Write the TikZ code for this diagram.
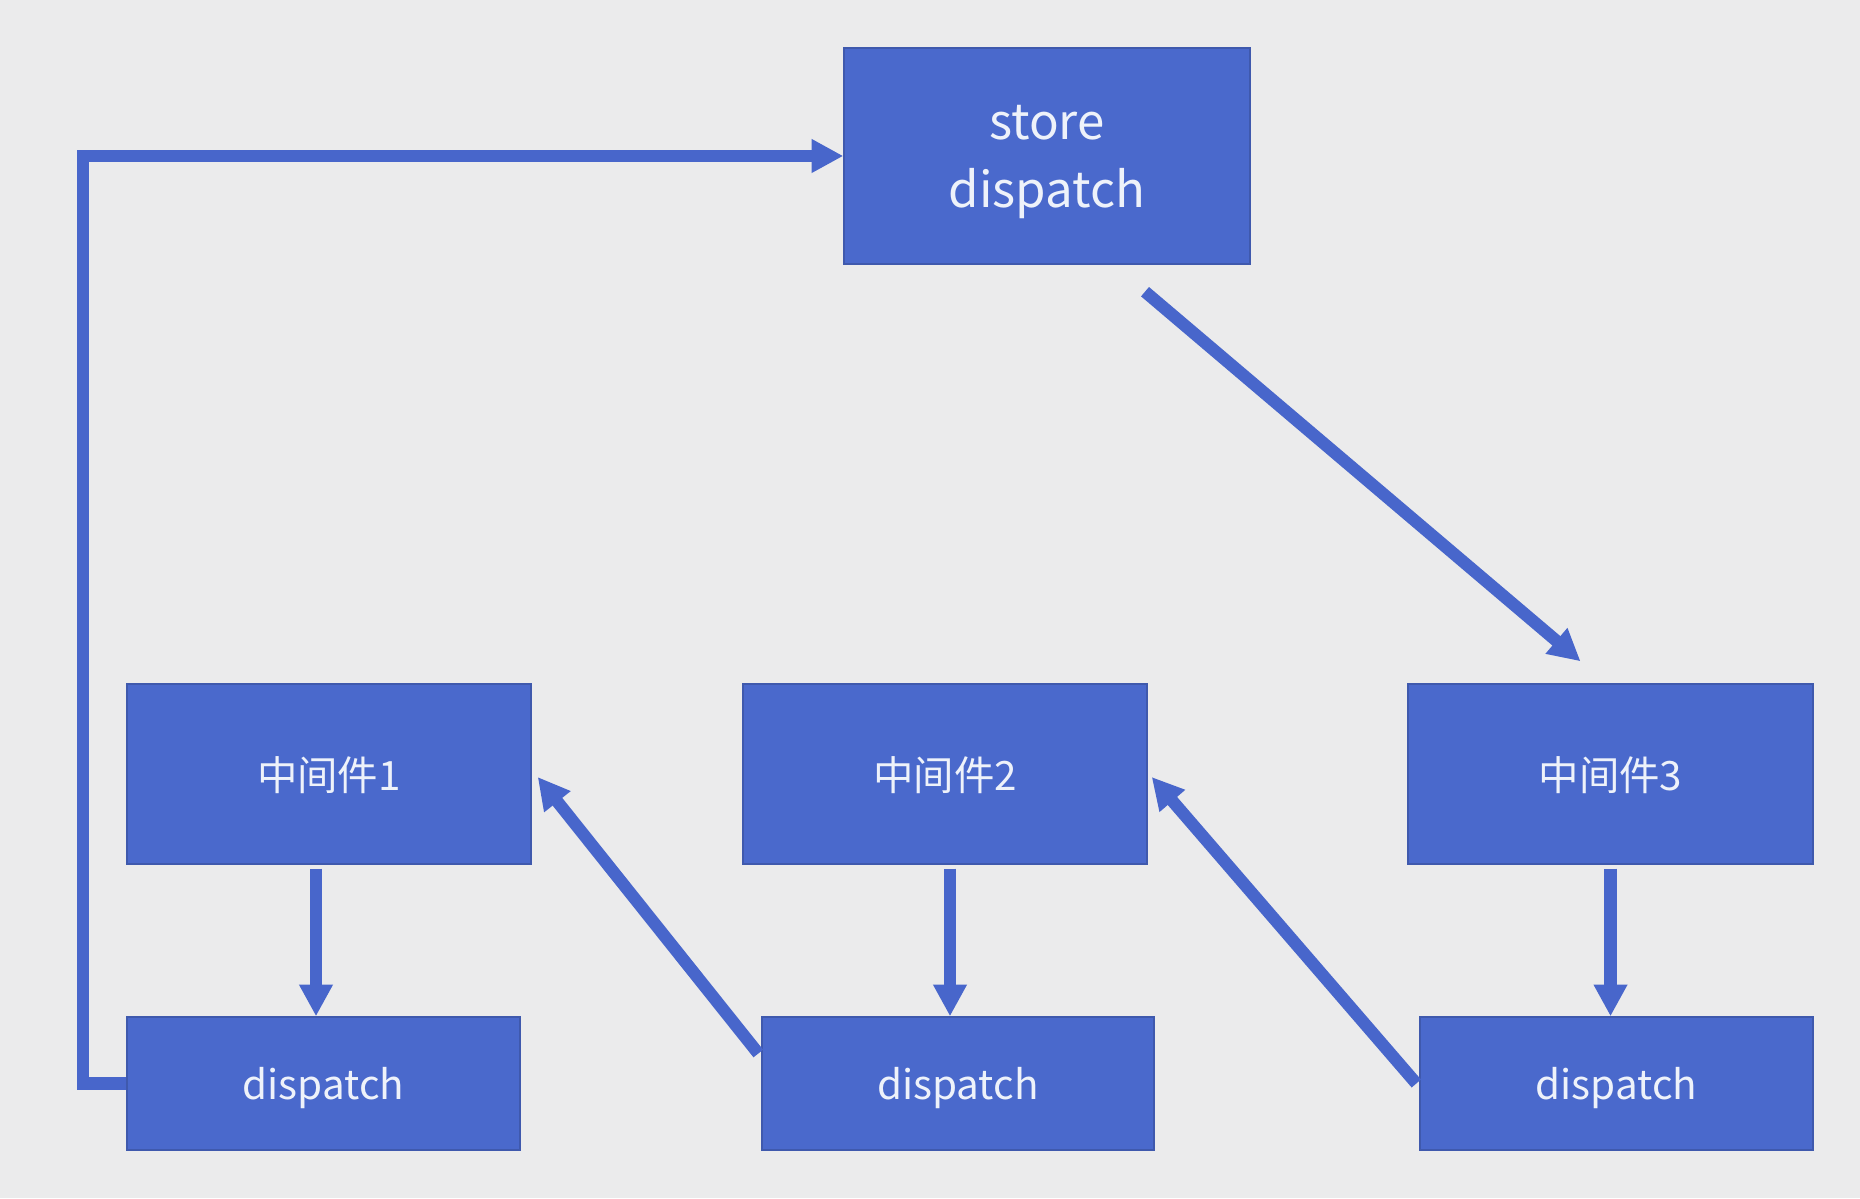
\documentclass[tikz,border=0pt]{standalone}
\usepackage{fontspec}
\setmainfont{Noto Sans CJK SC}
\usetikzlibrary{calc, positioning, arrows.meta}
\definecolor{boxblue}{HTML}{4A69CC}
\definecolor{lineblue}{HTML}{4866CB}
\definecolor{paper}{HTML}{EBEBEC}
\definecolor{textwhite}{HTML}{EEF2FA}

\begin{document}
\begin{tikzpicture}[
  block/.style={draw=boxblue!85!black, line width=0.4pt, fill=boxblue, text=textwhite,
    inner sep=0pt, text depth=0pt, font=\fontsize{11.5}{14}\selectfont},
  flow/.style={lineblue, line width=3.5pt, -{Triangle[length=9pt, width=9pt]}}
]
% Background
\fill[paper] (0,0) rectangle (18.6,11.98);
\useasboundingbox (0,0) rectangle (18.6,11.98);

% Boxes
\node[block, minimum width=4.06cm, minimum height=2.16cm, align=center,
  font=\fontsize{14}{19.3}\selectfont] (store) at (10.47,10.42) {store\\dispatch};
\node[block, minimum width=4.04cm, minimum height=1.80cm] (m1) at (3.29,4.24) {中间件1};
\node[block, minimum width=4.04cm, minimum height=1.80cm] (m2) at (9.45,4.24) {中间件2};
\node[block, minimum width=4.05cm, minimum height=1.80cm] (m3) at (16.105,4.24) {中间件3};
\node[block, minimum width=3.93cm, minimum height=1.33cm] (d1) at (3.235,1.145) {dispatch};
\node[block, minimum width=3.92cm, minimum height=1.33cm] (d2) at (9.58,1.145) {dispatch};
\node[block, minimum width=3.93cm, minimum height=1.33cm] (d3) at (16.165,1.145) {dispatch};

% Arrows
\draw[flow] (d1.west) -- ++(-0.43,0) |- (store.west);
\draw[flow] ([xshift=0.98cm, yshift=-0.27cm]store.south) -- ([xshift=-0.3cm, yshift=0.22cm]m3.north);
\draw[flow] ([xshift=-0.13cm, yshift=-0.04cm]m1.south) -- ([xshift=-0.13cm]m1.south |- d1.north);
\draw[flow] ([xshift=0.05cm, yshift=-0.04cm]m2.south) -- ([xshift=0.05cm]m2.south |- d2.north);
\draw[flow] ([yshift=-0.04cm]m3.south) -- (m3.south |- d3.north);
\draw[flow] ([xshift=-0.03cm, yshift=0.30cm]d2.west) -- ([xshift=0.06cm, yshift=-0.03cm]m1.east);
\draw[flow] ([xshift=-0.03cm]d3.west) -- ([xshift=0.04cm, yshift=-0.03cm]m2.east);

\end{tikzpicture}
\end{document}
